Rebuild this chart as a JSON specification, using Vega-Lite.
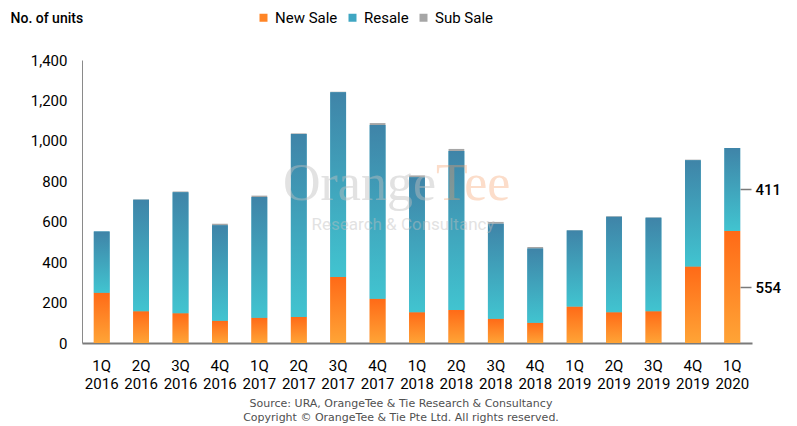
{
  "$schema": "https://vega.github.io/schema/vega-lite/v6.json",
  "width": 670,
  "height": 283,
  "autosize": {"type": "none"},
  "padding": {"left": 82, "top": 60, "right": 45, "bottom": 83},
  "background": "white",
  "config": {
    "view": {"stroke": null},
    "font": "Roboto",
    "axis": {"labelFont": "Roboto", "titleFont": "Roboto"},
    "legend": {"labelFont": "Roboto"}
  },
  "title": {
    "text": "Source: URA, OrangeTee  & Tie Research & Consultancy",
    "subtitle": "Copyright  © OrangeTee & Tie Pte Ltd. All rights reserved.",
    "orient": "bottom",
    "anchor": "middle",
    "frame": "group",
    "dx": -16,
    "offset": 7,
    "font": "DejaVu Sans",
    "subtitleFont": "DejaVu Sans",
    "fontSize": 11,
    "subtitleFontSize": 11,
    "fontWeight": "normal",
    "color": "#505050",
    "subtitleColor": "#505050",
    "subtitlePadding": 3
  },
  "data": {
    "values": [
      {"q": "1Q 2016", "New Sale": 249, "Resale": 302, "Sub Sale": 0},
      {"q": "2Q 2016", "New Sale": 157, "Resale": 552, "Sub Sale": 2},
      {"q": "3Q 2016", "New Sale": 147, "Resale": 599, "Sub Sale": 4},
      {"q": "4Q 2016", "New Sale": 110, "Resale": 472, "Sub Sale": 8},
      {"q": "1Q 2017", "New Sale": 125, "Resale": 597, "Sub Sale": 7},
      {"q": "2Q 2017", "New Sale": 129, "Resale": 905, "Sub Sale": 3},
      {"q": "3Q 2017", "New Sale": 326, "Resale": 915, "Sub Sale": 2},
      {"q": "4Q 2017", "New Sale": 219, "Resale": 859, "Sub Sale": 10},
      {"q": "1Q 2018", "New Sale": 152, "Resale": 668, "Sub Sale": 9},
      {"q": "2Q 2018", "New Sale": 163, "Resale": 787, "Sub Sale": 10},
      {"q": "3Q 2018", "New Sale": 120, "Resale": 470, "Sub Sale": 9},
      {"q": "4Q 2018", "New Sale": 100, "Resale": 367, "Sub Sale": 8},
      {"q": "1Q 2019", "New Sale": 180, "Resale": 377, "Sub Sale": 2},
      {"q": "2Q 2019", "New Sale": 152, "Resale": 472, "Sub Sale": 3},
      {"q": "3Q 2019", "New Sale": 157, "Resale": 463, "Sub Sale": 2},
      {"q": "4Q 2019", "New Sale": 378, "Resale": 526, "Sub Sale": 3},
      {"q": "1Q 2020", "New Sale": 554, "Resale": 411, "Sub Sale": 0}
    ]
  },
  "transform": [
    {"fold": ["New Sale", "Resale", "Sub Sale"], "as": ["key", "value"]},
    {"stack": "value", "groupby": ["q"], "sort": [{"field": "key", "order": "ascending"}], "as": ["v0", "v1"]}
  ],
  "encoding": {
    "x": {
      "field": "q",
      "type": "nominal",
      "sort": null,
      "scale": {"paddingInner": 0.6, "paddingOuter": 0.3},
      "axis": {
        "title": null,
        "labelAngle": 0,
        "labelExpr": "split(datum.label, ' ')",
        "labelFontSize": 15,
        "labelColor": "#000000",
        "labelPadding": 15,
        "labelLineHeight": 18,
        "labelBaseline": "top",
        "ticks": false,
        "domainColor": "#7a7a7a",
        "domainWidth": 2
      }
    }
  },
  "layer": [
    {
      "mark": {"type": "bar"},
      "encoding": {
        "y": {
          "field": "v1",
          "type": "quantitative",
          "scale": {"domain": [0, 1400], "nice": false},
          "axis": {
            "title": "No. of units",
            "titleAngle": 0,
            "titleX": -72,
            "titleY": -42,
            "titleAlign": "left",
            "titleBaseline": "middle",
            "titleFontSize": 14,
            "titleFontWeight": 500,
            "titleColor": "#000000",
            "values": [0, 200, 400, 600, 800, 1000, 1200, 1400],
            "format": ",d",
            "labelFontSize": 15,
            "labelColor": "#000000",
            "labelPadding": 15,
            "ticks": false,
            "grid": false,
            "domainColor": "#8a8a8a",
            "domainWidth": 1
          }
        },
        "y2": {"field": "v0"},
        "color": {
          "field": "key",
          "type": "nominal",
          "scale": {"domain": ["New Sale", "Resale", "Sub Sale"], "range": ["#FF8526", "#3FA6C2", "#A6A6A6"]},
          "legend": {
            "title": null,
            "orient": "none",
            "direction": "horizontal",
            "legendX": 174,
            "legendY": -50,
            "symbolType": "square",
            "symbolSize": 64,
            "symbolStrokeWidth": 0,
            "labelFontSize": 15,
            "labelColor": "#000000",
            "labelOffset": 4,
            "columnPadding": 7
          }
        }
      }
    },
    {
      "transform": [{"filter": "datum.key == 'New Sale'"}],
      "mark": {
        "type": "bar",
        "color": {
          "gradient": "linear", "x1": 0, "y1": 0, "x2": 0, "y2": 1,
          "stops": [{"offset": 0, "color": "#FF6A17"}, {"offset": 1, "color": "#FFA436"}]
        }
      },
      "encoding": {
        "y": {"field": "v1", "type": "quantitative", "scale": {"domain": [0, 1400], "nice": false}, "axis": null},
        "y2": {"field": "v0"}
      }
    },
    {
      "transform": [{"filter": "datum.key == 'Resale'"}],
      "mark": {
        "type": "bar",
        "color": {
          "gradient": "linear", "x1": 0, "y1": 0, "x2": 0, "y2": 1,
          "stops": [{"offset": 0, "color": "#3F84A8"}, {"offset": 1, "color": "#41C4D0"}]
        }
      },
      "encoding": {
        "y": {
          "field": "v1",
          "type": "quantitative",
          "scale": {"domain": [0, 1400], "nice": false},
          "axis": {
            "orient": "right",
            "title": null,
            "values": [277, 759.5],
            "labelExpr": "datum.value < 500 ? '554' : '411'",
            "labelFontSize": 15,
            "labelFontWeight": 500,
            "labelColor": "#000000",
            "labelPadding": 4,
            "offset": -12,
            "tickSize": 11,
            "tickColor": "#7a7a7a",
            "tickWidth": 1.5,
            "domain": false,
            "grid": false
          }
        },
        "y2": {"field": "v0"}
      }
    },
    {
      "transform": [{"filter": "datum.q == '1Q 2016' && datum.key == 'New Sale'"}],
      "mark": {"type": "text", "text": "Orange", "font": "Liberation Serif", "fontSize": 52, "align": "right", "baseline": "alphabetic", "dx": 19, "color": "#c0c0c0", "opacity": 0.45},
      "encoding": {
        "x": {"datum": "1Q 2018"},
        "y": {"datum": 707, "type": "quantitative", "axis": null}
      }
    },
    {
      "transform": [{"filter": "datum.q == '1Q 2016' && datum.key == 'New Sale'"}],
      "mark": {"type": "text", "text": "Tee", "font": "Liberation Serif", "fontSize": 52, "align": "left", "baseline": "alphabetic", "dx": 19, "color": "#f7a069", "opacity": 0.35},
      "encoding": {
        "x": {"datum": "1Q 2018"},
        "y": {"datum": 707, "type": "quantitative", "axis": null}
      }
    },
    {
      "transform": [{"filter": "datum.q == '1Q 2016' && datum.key == 'New Sale'"}],
      "mark": {"type": "text", "text": "Research & Consultancy", "font": "Roboto", "fontSize": 17, "align": "center", "baseline": "alphabetic", "dx": -14, "color": "#c0c0c0", "opacity": 0.45},
      "encoding": {
        "x": {"datum": "1Q 2018"},
        "y": {"datum": 559, "type": "quantitative", "axis": null}
      }
    }
  ],
  "resolve": {"axis": {"y": "independent"}}
}
